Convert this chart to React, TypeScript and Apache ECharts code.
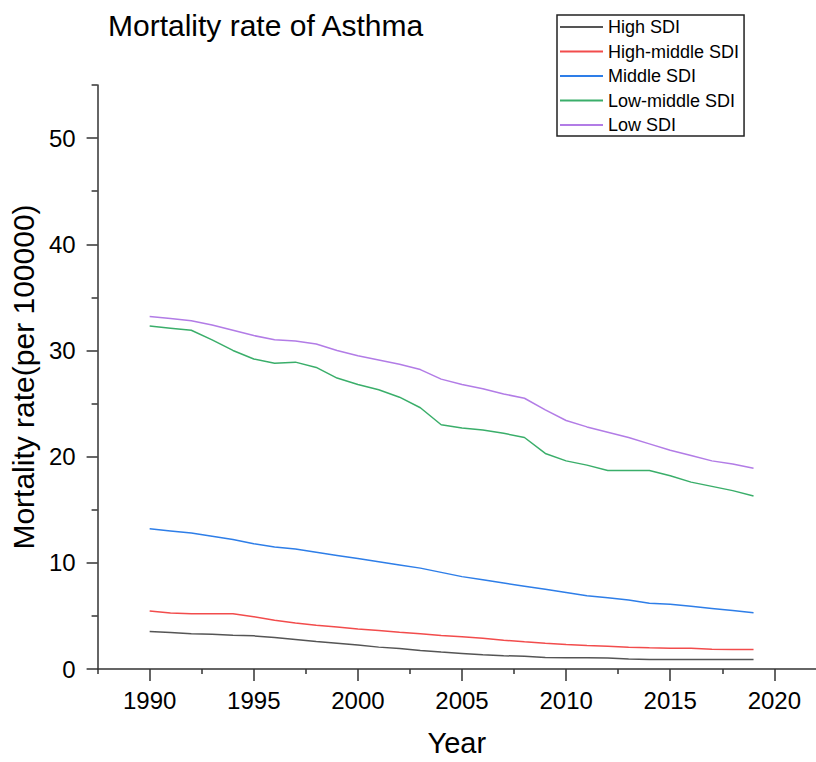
import React, { useEffect, useRef } from "react";
import * as echarts from "echarts";

const years = [
  1990, 1991, 1992, 1993, 1994, 1995, 1996, 1997, 1998, 1999,
  2000, 2001, 2002, 2003, 2004, 2005, 2006, 2007, 2008, 2009,
  2010, 2011, 2012, 2013, 2014, 2015, 2016, 2017, 2018, 2019,
];

const highSDI = [
  3.52, 3.43, 3.31, 3.28, 3.18, 3.12, 2.96, 2.78, 2.59, 2.43,
  2.25, 2.06, 1.93, 1.75, 1.59, 1.47, 1.34, 1.25, 1.19, 1.09,
  1.06, 1.06, 1.03, 0.94, 0.9, 0.9, 0.9, 0.9, 0.9, 0.9,
];

const highMiddleSDI = [
  5.46, 5.27, 5.2, 5.2, 5.2, 4.93, 4.59, 4.34, 4.12, 3.96,
  3.77, 3.62, 3.46, 3.31, 3.15, 3.03, 2.9, 2.71, 2.56, 2.43,
  2.31, 2.21, 2.15, 2.06, 2.0, 1.96, 1.96, 1.87, 1.84, 1.84,
];

const middleSDI = [
  13.2, 13.0, 12.8, 12.5, 12.2, 11.8, 11.5, 11.3, 11.0, 10.7,
  10.4, 10.1, 9.8, 9.5, 9.1, 8.7, 8.4, 8.1, 7.8, 7.5,
  7.2, 6.9, 6.7, 6.5, 6.2, 6.1, 5.9, 5.7, 5.5, 5.3,
];

const lowMiddleSDI = [
  32.3, 32.1, 31.9, 31.0, 30.0, 29.2, 28.8, 28.9, 28.4, 27.4,
  26.8, 26.3, 25.6, 24.6, 23.0, 22.7, 22.5, 22.2, 21.8, 20.3,
  19.6, 19.2, 18.7, 18.7, 18.7, 18.2, 17.6, 17.2, 16.8, 16.3,
];

const lowSDI = [
  33.2, 33.0, 32.8, 32.4, 31.9, 31.4, 31.0, 30.9, 30.6, 30.0,
  29.5, 29.1, 28.7, 28.2, 27.3, 26.8, 26.4, 25.9, 25.5, 24.4,
  23.4, 22.8, 22.3, 21.8, 21.2, 20.6, 20.1, 19.6, 19.3, 18.9,
];

const seriesNames = ["High SDI", "High-middle SDI", "Middle SDI", "Low-middle SDI", "Low SDI"];
const seriesValues = [highSDI, highMiddleSDI, middleSDI, lowMiddleSDI, lowSDI];
const seriesColors = ["#555555", "#f24c4c", "#2e7ee8", "#3aae6a", "#b27ce6"];

const xMajorTicks = [1990, 1995, 2000, 2005, 2010, 2015, 2020];
const xMinorTicks = [1987.5, 1992.5, 1997.5, 2002.5, 2007.5, 2012.5, 2017.5];
const yMajorTicks = [0, 10, 20, 30, 40, 50];
const yMinorTicks = [5, 15, 25, 35, 45, 55];

const FONT = "'Liberation Sans', Arial, Helvetica, sans-serif";
const AXIS_COLOR = "#333333";

export default function App() {
  const ref = useRef<HTMLDivElement>(null);

  useEffect(() => {
    if (!ref.current) return;
    const chart = echarts.init(ref.current, null, { renderer: "svg" });

    const axisLineStyle = { color: AXIS_COLOR, width: 1.5 };

    chart.setOption({
      animation: false,
      backgroundColor: "#ffffff",
      title: {
        text: "Mortality rate of Asthma",
        left: 103,
        top: 5,
        textStyle: {
          fontFamily: FONT,
          fontSize: 30,
          fontWeight: "normal",
          color: "#000000",
        },
      },
      legend: {
        orient: "vertical",
        left: 557,
        top: 15,
        padding: [3, 5, 2, 3],
        icon: "rect",
        itemWidth: 43,
        itemHeight: 2,
        itemGap: 6.5,
        borderColor: "#222222",
        borderWidth: 1.5,
        data: seriesNames,
        textStyle: {
          fontFamily: FONT,
          fontSize: 18,
          lineHeight: 18,
          color: "#000000",
        },
      },
      grid: {
        left: 96,
        right: 0,
        top: 85,
        bottom: 90,
        containLabel: false,
      },
      xAxis: [
        {
          type: "value",
          min: 1987.5,
          max: 2022,
          axisLine: { show: true, lineStyle: axisLineStyle },
          axisTick: {
            show: true,
            inside: false,
            length: 12,
            customValues: xMajorTicks,
            lineStyle: axisLineStyle,
          },
          axisLabel: {
            show: true,
            customValues: xMajorTicks,
            margin: 19,
            fontFamily: FONT,
            fontSize: 24,
            color: "#000000",
            formatter: (v: number) => String(v),
          },
          splitLine: { show: false },
          name: "Year",
          nameLocation: "middle",
          nameGap: 59,
          nameTextStyle: { fontFamily: FONT, fontSize: 29, color: "#000000" },
        },
        {
          type: "value",
          min: 1987.5,
          max: 2022,
          position: "bottom",
          axisLine: { show: false },
          axisTick: {
            show: true,
            inside: false,
            length: 5,
            customValues: xMinorTicks,
            lineStyle: axisLineStyle,
          },
          axisLabel: { show: false, customValues: xMinorTicks },
          splitLine: { show: false },
        },
      ],
      yAxis: [
        {
          type: "value",
          min: 0,
          max: 55,
          axisLine: { show: true, lineStyle: axisLineStyle },
          axisTick: {
            show: true,
            inside: false,
            length: 11,
            customValues: yMajorTicks,
            lineStyle: axisLineStyle,
          },
          axisLabel: {
            show: true,
            customValues: yMajorTicks,
            margin: 22,
            fontFamily: FONT,
            fontSize: 24,
            color: "#000000",
          },
          splitLine: { show: false },
          name: "Mortality rate(per 100000)",
          nameLocation: "middle",
          nameRotate: 90,
          nameGap: 52,
          nameTextStyle: { fontFamily: FONT, fontSize: 30, color: "#000000" },
        },
        {
          type: "value",
          min: 0,
          max: 55,
          position: "left",
          axisLine: { show: false },
          axisTick: {
            show: true,
            inside: false,
            length: 6,
            customValues: yMinorTicks,
            lineStyle: axisLineStyle,
          },
          axisLabel: { show: false, customValues: yMinorTicks },
          splitLine: { show: false },
        },
      ],
      series: seriesNames.map((name, i) => ({
        name,
        type: "line",
        xAxisIndex: 0,
        yAxisIndex: 0,
        symbol: "none",
        showSymbol: false,
        color: seriesColors[i],
        lineStyle: { color: seriesColors[i], width: 1.5 },
        data: years.map((y, j) => [y, seriesValues[i][j]]),
      })),
    });

    return () => {
      chart.dispose();
    };
  }, []);

  return (
    <div
      ref={ref}
      style={{ position: "fixed", left: 0, top: 0, width: 816, height: 762 }}
    />
  );
}
